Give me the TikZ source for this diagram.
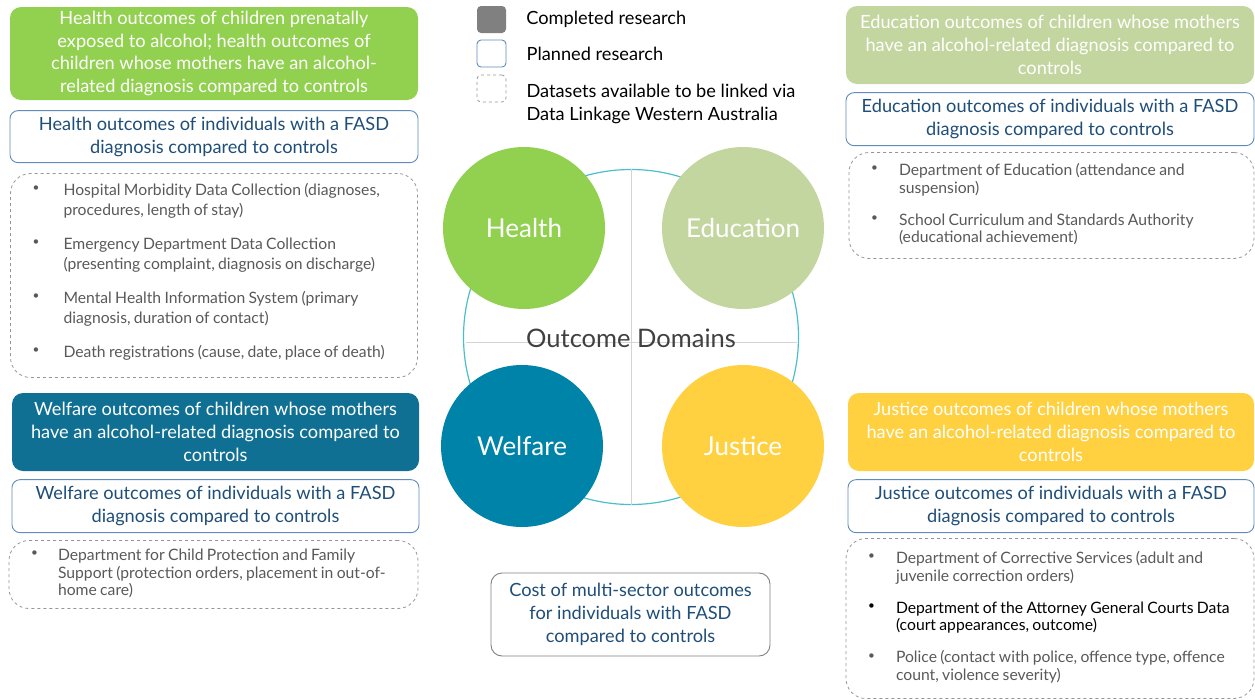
\documentclass[tikz,border=0pt]{standalone}
\usepackage{fontspec}
\setmainfont{Lato}
\usetikzlibrary{positioning}

\definecolor{healthgreen}{RGB}{146,208,80}
\definecolor{educgreen}{RGB}{196,214,160}
\definecolor{welfaredark}{RGB}{16,112,148}
\definecolor{welfareblue}{RGB}{0,131,168}
\definecolor{justiceyellow}{RGB}{255,208,64}
\definecolor{planborder}{RGB}{96,140,188}
\definecolor{plantext}{RGB}{31,78,121}
\definecolor{dashgray}{RGB}{150,150,150}
\definecolor{datatext}{RGB}{89,89,89}
\definecolor{ringteal}{RGB}{75,190,205}
\definecolor{crossgray}{RGB}{212,212,212}

\tikzset{
  done/.style={fill=#1, rounded corners=11pt, text=white, align=center, inner sep=2pt,
    font=\fontsize{18.2}{22.7}\selectfont},
  planned/.style={draw=planborder, line width=0.9pt, rounded corners=8pt, fill=white, text=plantext,
    align=center, inner sep=2pt, font=\fontsize{18.2}{22.7}\selectfont},
  datasets/.style={draw=dashgray, dashed, line width=0.8pt, rounded corners=20pt, text=datatext,
    inner xsep=22pt, inner ysep=4pt},
  domain/.style={circle, fill=#1, text=white, minimum size=162pt, inner sep=0pt,
    font=\fontsize{26}{30}\selectfont},
  keybox/.style={minimum width=29pt, minimum height=27pt, rounded corners=4pt, inner sep=0pt},
  keytext/.style={inner sep=0pt, align=left, font=\fontsize{18.2}{23}\selectfont}
}

% bullet list inside the dataset boxes
\newcommand{\dslist}[2]{%
  \begin{tabular}{@{}p{#1}@{}l@{}}#2\end{tabular}}
\newcommand{\bul}{\raisebox{0.45ex}{\scalebox{0.75}{\textbullet}}}

\begin{document}
\begin{tikzpicture}[x=1pt, y=-1pt]
\useasboundingbox (0,0) rectangle (1255,699);

% key
\node[keybox, fill=gray] (keydone) at (491.5,19.5) {};
\node[keybox, draw=planborder, line width=0.9pt] (keyplan) at (491.5,53.5) {};
\node[keybox, draw=dashgray, dashed, line width=0.8pt] (keydata) at (491.5,88.5) {};
\node[keytext, right=20pt of keydone] (keydonetext) {Completed research};
\node[keytext, right=20pt of keyplan] (keyplantext) {Planned research};
\node[keytext, anchor=north west] (keydatatext) at ([xshift=20pt, yshift=-9pt]keydata.north east)
  {Datasets available to be linked via\\Data Linkage Western Australia};

% outcome domains
\node[draw=ringteal, circle, line width=1.2pt, minimum size=335pt, inner sep=0pt] (ring) at (631,337) {};
\draw[crossgray, line width=0.9pt] (ring.north) -- (ring.south);
\draw[crossgray, line width=0.9pt] ([xshift=3pt, yshift=-5pt]ring.west) -- ([xshift=-2pt, yshift=-5pt]ring.east);
\node[text=black!75, font=\fontsize{25.5}{30}\selectfont] (centre) at (631,338) {Outcome Domains};

\node[domain=healthgreen] (health) at (524,228) {Health};
\node[domain=educgreen] (education) at (743,228) {Education};
\node[domain=welfareblue] (welfare) at (522,446) {Welfare};
\node[domain=justiceyellow] (justice) at (743,446) {Justice};

% health
\node[done=healthgreen, minimum width=408pt, minimum height=93pt] (healthdone) at (214,53.5)
  {Health outcomes of children prenatally\\exposed to alcohol; health outcomes of\\children whose mothers have an alcohol-\\related diagnosis compared to controls};
\node[planned, minimum width=408pt, minimum height=52pt, below=10pt of healthdone] (healthplan)
  {Health outcomes of individuals with a FASD\\diagnosis compared to controls};
\node[datasets, text width=363pt, minimum height=204pt, below=10pt of healthplan] (healthdata)
  {\fontsize{15.7}{20}\selectfont\dslist{31pt}{%
    \bul & Hospital Morbidity Data Collection (diagnoses,\\
         & procedures, length of stay)\\[14pt]
    \bul & Emergency Department Data Collection\\
         & (presenting complaint, diagnosis on discharge)\\[14pt]
    \bul & Mental Health Information System (primary\\
         & diagnosis, duration of contact)\\[14pt]
    \bul & Death registrations (cause, date, place of death)}\vspace*{6pt}};

% welfare
\node[done=welfaredark, minimum width=407pt, minimum height=78pt] (welfaredone) at (215.5,432)
  {Welfare outcomes of children whose mothers\\have an alcohol-related diagnosis compared to\\controls};
\node[planned, minimum width=407pt, minimum height=53pt, below=8pt of welfaredone] (welfareplan)
  {Welfare outcomes of individuals with a FASD\\diagnosis compared to controls};
\node[datasets, text width=365pt, minimum height=68pt, inner xsep=22pt, below=7pt of welfareplan, xshift=-2pt] (welfaredata)
  {\fontsize{15.7}{17.5}\selectfont\dslist{27pt}{%
    \bul & Department for Child Protection and Family\\
         & Support (protection orders, placement in out-of-\\
         & home care)}};

% education
\node[done=educgreen, minimum width=408pt, minimum height=78pt] (educdone) at (1050,45)
  {Education outcomes of children whose mothers\\have an alcohol-related diagnosis compared to\\controls};
\node[planned, minimum width=408pt, minimum height=53pt, below=8pt of educdone] (educplan)
  {Education outcomes of individuals with a FASD\\diagnosis compared to controls};
\node[datasets, text width=361pt, minimum height=106pt, below=6pt of educplan, xshift=1.5pt] (educdata)
  {\fontsize{15.7}{17.5}\selectfont\dslist{28pt}{%
    \bul & Department of Education (attendance and\\
         & suspension)\\[14.5pt]
    \bul & School Curriculum and Standards Authority\\
         & (educational achievement)}};

% justice
\node[done=justiceyellow, minimum width=406pt, minimum height=78pt] (justicedone) at (1051,432)
  {Justice outcomes of children whose mothers\\have an alcohol-related diagnosis compared to\\controls};
\node[planned, minimum width=406pt, minimum height=53pt, below=8pt of justicedone] (justiceplan)
  {Justice outcomes of individuals with a FASD\\diagnosis compared to controls};
\node[datasets, text width=364pt, minimum height=160pt, below=5pt of justiceplan, xshift=-1pt] (justicedata)
  {\fontsize{15.7}{17.7}\selectfont\dslist{28pt}{%
    \bul & Department of Corrective Services (adult and\\
         & juvenile correction orders)\\[14.3pt]
    \textcolor{black}{\bul} & \textcolor{black}{Department of the Attorney General Courts Data}\\
         & \textcolor{black}{(court appearances, outcome)}\\[14.3pt]
    \bul & Police (contact with police, offence type, offence\\
         & count, violence severity)}};

% cost
\node[planned, draw=gray, minimum width=279pt, minimum height=83pt, rounded corners=11pt] (cost) at (630.5,614.5)
  {Cost of multi-sector outcomes\\for individuals with FASD\\compared to controls};
\end{tikzpicture}
\end{document}
